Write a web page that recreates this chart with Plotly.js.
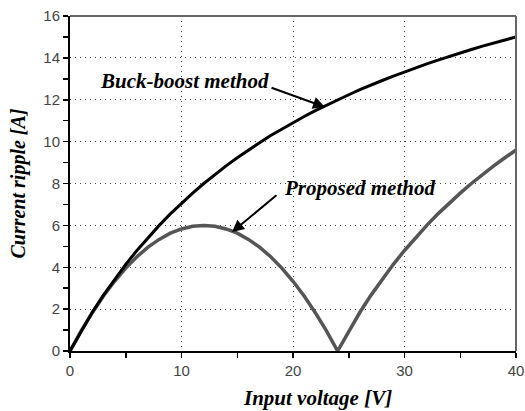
<!DOCTYPE html>
<html>
<head>
<meta charset="utf-8">
<script src="https://cdn.plot.ly/plotly-3.0.1.min.js"></script>
<style>html,body{margin:0;padding:0;background:#fff;}#chart{width:525px;height:411px;}</style>
</head>
<body>
<div id="chart"></div>
<script>
// Input voltage [V]
const inputVoltage = [0,1,2,3,4,5,6,7,8,9,10,11,12,13,14,15,16,17,18,19,20,21,22,23,24,25,26,27,28,29,30,31,32,33,34,35,36,37,38,39,40];
// Current ripple [A] - buck-boost method
const buckBoost = [0,0.96,1.85,2.67,3.43,4.14,4.8,5.42,6,6.55,7.06,7.54,8,8.43,8.84,9.23,9.6,9.95,10.29,10.6,10.91,11.2,11.48,11.74,12,12.24,12.48,12.71,12.92,13.13,13.33,13.53,13.71,13.89,14.07,14.24,14.4,14.56,14.71,14.86,15];
// Current ripple [A] - proposed method
const proposed = [0,0.96,1.83,2.63,3.33,3.96,4.5,4.96,5.33,5.63,5.83,5.96,6,5.96,5.83,5.63,5.33,4.96,4.5,3.96,3.33,2.63,1.83,0.96,0,0.96,1.85,2.67,3.43,4.14,4.8,5.42,6,6.55,7.06,7.54,8,8.43,8.84,9.23,9.6];
const xTicks = [0,10,20,30,40];
const yTicks = [0,2,4,6,8,10,12,14,16];

const serif = {family: 'Liberation Serif, "Times New Roman", serif', weight: 'bold', style: 'italic', color: '#000'};

const traces = [
  {x: inputVoltage, y: proposed, mode: 'lines', line: {color: '#555555', width: 3.5}, hoverinfo: 'skip'},
  {x: inputVoltage, y: buckBoost, mode: 'lines', line: {color: '#000000', width: 3}, hoverinfo: 'skip'}
];

const layout = {
  width: 525, height: 411,
  margin: {l: 70, r: 9, t: 16, b: 60},
  paper_bgcolor: '#fff', plot_bgcolor: '#fff',
  showlegend: false,
  font: {family: 'Liberation Sans, Arial, sans-serif', size: 15, color: '#444'},
  xaxis: {
    range: [0, 40], tickvals: xTicks, ticktext: xTicks.map(String),
    ticks: 'outside', ticklen: 5, tickwidth: 1.5, tickcolor: '#000',
    showline: true, linecolor: '#000', linewidth: 2,
    showgrid: true, gridcolor: '#444', gridwidth: 1, griddash: '1px,4px',
    zeroline: false,
    minor: {tickvals: [5,15,25,35], ticks: 'outside', ticklen: 5, tickwidth: 1.5, tickcolor: '#000', showgrid: false},
    tickfont: {size: 15, color: '#444'}
  },
  yaxis: {
    range: [0, 16], tickvals: yTicks, ticktext: yTicks.map(String),
    ticks: 'outside', ticklen: 5, tickwidth: 1.5, tickcolor: '#000',
    showline: true, linecolor: '#000', linewidth: 2,
    showgrid: true, gridcolor: '#444', gridwidth: 1, griddash: '1px,4px',
    zeroline: false,
    minor: {tickvals: [1,3,5,7,9,11,13,15], ticks: 'outside', ticklen: 5, tickwidth: 1.5, tickcolor: '#000', showgrid: false},
    tickfont: {size: 15, color: '#444'},
    title: {text: 'Current ripple [A]', font: Object.assign({size: 20}, serif), standoff: 12}
  },
  shapes: [
    {type: 'line', xref: 'paper', yref: 'paper', x0: 0, x1: 1, y0: 1, y1: 1, line: {color: '#666', width: 2}},
    {type: 'line', xref: 'paper', yref: 'paper', x0: 1, x1: 1, y0: 0, y1: 1, line: {color: '#666', width: 2}}
  ],
  annotations: [
    {x: 0.556, y: -0.14, xref: 'paper', yref: 'paper', xanchor: 'center', yanchor: 'middle', text: 'Input voltage [V]', showarrow: false, font: Object.assign({size: 21}, serif)},
    {x: 10.27, y: 12.9, xref: 'x', yref: 'y', text: 'Buck-boost method', showarrow: false, font: Object.assign({size: 21}, serif)},
    {x: 22.87, y: 11.65, ax: 17.94, ay: 12.6, axref: 'x', ayref: 'y', xref: 'x', yref: 'y', text: '', showarrow: true, arrowhead: 2, arrowsize: 1.2, arrowwidth: 2, arrowcolor: '#000'},
    {x: 26.0, y: 7.78, xref: 'x', yref: 'y', text: 'Proposed method', showarrow: false, font: Object.assign({size: 21}, serif)},
    {x: 14.53, y: 5.68, ax: 18.65, ay: 7.5, axref: 'x', ayref: 'y', xref: 'x', yref: 'y', text: '', showarrow: true, arrowhead: 2, arrowsize: 1.2, arrowwidth: 2, arrowcolor: '#000'}
  ]
};

Plotly.newPlot('chart', traces, layout, {staticPlot: true, displayModeBar: false});
</script>
</body>
</html>
